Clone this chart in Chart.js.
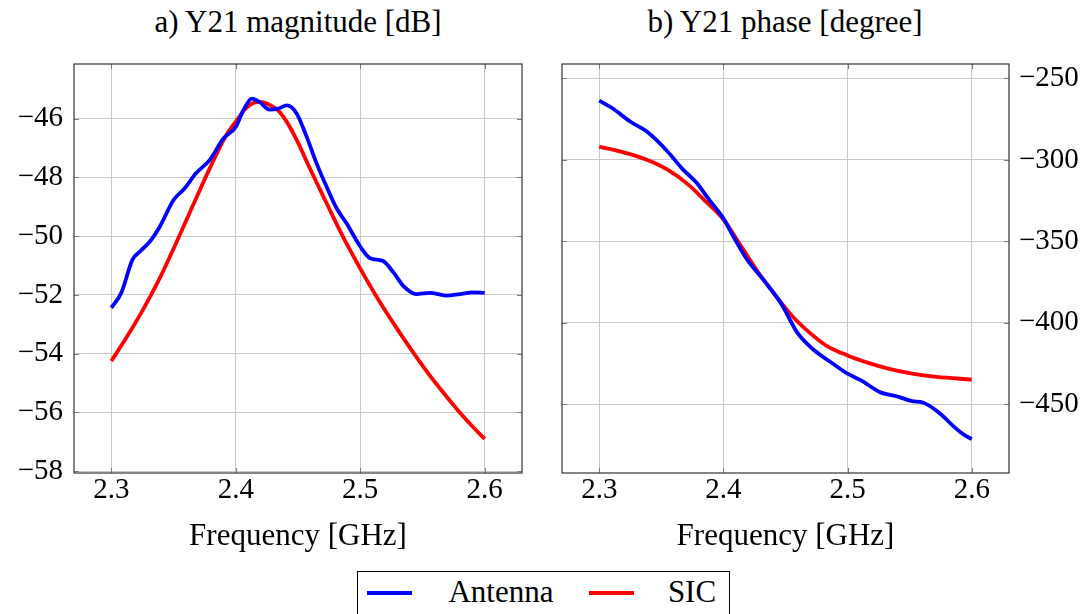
<!DOCTYPE html>
<html>
<head>
<meta charset="utf-8">
<script src="https://cdn.jsdelivr.net/npm/chart.js@4.4.0/dist/chart.umd.min.js"></script>
<style>
  html, body { margin:0; padding:0; background:#fff; }
  body { width:1092px; height:614px; position:relative; overflow:hidden; font-family:"Liberation Serif","DejaVu Serif",serif; color:#000; }
  canvas { position:absolute; top:0; }
  .title { position:absolute; top:6px; width:448px; text-align:center; font-size:31px; line-height:31px; white-space:nowrap; }
  #legend { position:absolute; left:357px; top:571px; width:373px; height:60px; border:1px solid #000; box-sizing:border-box; }
  #legend .sw { position:absolute; top:19px; width:45px; height:4px; }
  #legend .lbl { position:absolute; top:4px; width:140px; margin-left:-70px; text-align:center; font-size:31px; line-height:31px; }
</style>
</head>
<body>
<div class="title" style="left:74px">a) Y21 magnitude [dB]</div>
<div class="title" style="left:561px">b) Y21 phase [degree]</div>
<canvas id="chartMag" width="546" height="555" style="left:0"></canvas>
<canvas id="chartPhase" width="546" height="555" style="left:546px"></canvas>
<div id="legend"></div>
<script>
/* ==== Data ==== */
const seriesNames = ['Antenna', 'SIC'];
const seriesColors = ['#0000ff', '#ff0000'];

const freqTicks = [2.3, 2.4, 2.5, 2.6];
const magTicks = [-58, -56, -54, -52, -50, -48, -46];
const phaseTicks = [-450, -400, -350, -300, -250];

// Y21 magnitude [dB]
const freqMagAnt = [2.300,2.308,2.317,2.323,2.331,2.339,2.350,2.359,2.368,2.379,2.390,2.400,2.406,2.413,2.419,2.427,2.434,2.441,2.449,2.457,2.465,2.473,2.481,2.489,2.500,2.508,2.518,2.527,2.535,2.545,2.556,2.569,2.580,2.591,2.600];
const magAnt = [-52.44,-51.93,-50.80,-50.52,-50.18,-49.67,-48.77,-48.37,-47.86,-47.41,-46.68,-46.28,-45.72,-45.32,-45.43,-45.69,-45.66,-45.55,-45.83,-46.62,-47.53,-48.32,-49.05,-49.56,-50.35,-50.75,-50.84,-51.25,-51.71,-51.97,-51.93,-52.02,-51.97,-51.91,-51.93];
const freqMagSic = [2.300,2.312,2.3255,2.339,2.352,2.3657,2.379,2.3925,2.400,2.4075,2.414,2.4206,2.427,2.434,2.441,2.449,2.4595,2.473,2.486,2.4997,2.513,2.5265,2.540,2.5533,2.5667,2.580,2.591,2.600];
const magSic = [-54.25,-53.46,-52.50,-51.42,-50.24,-48.94,-47.70,-46.55,-46.10,-45.68,-45.47,-45.43,-45.53,-45.72,-46.11,-46.73,-47.69,-48.88,-50.01,-51.08,-52.05,-52.95,-53.80,-54.59,-55.32,-56.00,-56.51,-56.90];

// Y21 phase [degree]
const freqPhAnt = [2.300,2.3106,2.3258,2.3383,2.355,2.3675,2.3786,2.3883,2.400,2.4078,2.4189,2.4328,2.4467,2.4592,2.4717,2.4883,2.500,2.5106,2.5258,2.541,2.552,2.5606,2.5744,2.5856,2.5939,2.600];
const phAnt = [-263.6,-268.3,-276.9,-282.6,-294.8,-306.0,-314.2,-324.3,-335.9,-346.7,-361.0,-374.2,-388.5,-405.8,-416.0,-425.2,-431.3,-435.3,-442.5,-445.5,-448.2,-449.0,-455.7,-463.8,-468.9,-471.4];
const freqPhSic = [2.300,2.3217,2.3383,2.355,2.3717,2.3856,2.400,2.4133,2.4272,2.4411,2.455,2.4689,2.4828,2.500,2.5161,2.5328,2.552,2.5717,2.600];
const phSic = [-291.8,-295.8,-299.9,-306.0,-315.2,-325.4,-336.6,-351.8,-368.1,-382.4,-395.6,-405.8,-414.0,-420.1,-424.5,-428.2,-431.3,-433.3,-434.9];

/* ==== Helpers ==== */
const FONT = '"Liberation Serif", "DejaVu Serif", serif';
const GRID = '#c8c8c8';
const FRAME = '#333333';

function pts(xs, ys){ return xs.map((x,i)=>({x, y: ys[i]})); }
function minus(v){ return String(v).replace('-', '\u2212'); }
function fixedTicks(list){ return scale => { scale.ticks = list.map(v=>({value:v})); }; }

function dataset(i, xs, ys){
  return { label: seriesNames[i], data: pts(xs, ys), borderColor: seriesColors[i], backgroundColor: seriesColors[i],
           borderWidth: 3.8, pointRadius: 0, cubicInterpolationMode: 'monotone', fill: false };
}

// frame round the plot area + small inner tick marks, like pgfplots
const framePlugin = {
  id: 'frame',
  afterDatasetsDraw(chart){
    const {ctx, chartArea: a, scales} = chart;
    ctx.save();
    ctx.strokeStyle = '#7a7a7a'; ctx.lineWidth = 1;
    ctx.beginPath();
    scales.x.ticks.forEach(t => {
      const px = Math.round(scales.x.getPixelForValue(t.value)) + 0.5;
      ctx.moveTo(px, a.bottom); ctx.lineTo(px, a.bottom - 5);
      ctx.moveTo(px, a.top); ctx.lineTo(px, a.top + 5);
    });
    scales.y.ticks.forEach(t => {
      const py = Math.round(scales.y.getPixelForValue(t.value)) + 0.5;
      ctx.moveTo(a.left, py); ctx.lineTo(a.left + 5, py);
      ctx.moveTo(a.right, py); ctx.lineTo(a.right - 5, py);
    });
    ctx.stroke();
    ctx.strokeStyle = FRAME; ctx.lineWidth = 1.2;
    ctx.strokeRect(a.left, a.top, a.right - a.left, a.bottom - a.top);
    ctx.restore();
  }
};

function makeChart(id, datasets, y, yPos, pad, yWidth){
  return new Chart(document.getElementById(id), {
    type: 'line',
    data: { datasets },
    plugins: [framePlugin],
    options: {
      responsive: false, animation: false,
      layout: { padding: pad },
      plugins: { legend: { display: false }, tooltip: { enabled: false } },
      scales: {
        x: {
          type: 'linear', min: 2.27, max: 2.63,
          afterBuildTicks: fixedTicks(freqTicks),
          afterFit: s => { s.height = 82; },
          grid: { color: GRID, drawTicks: false },
          border: { display: false },
          ticks: { color: '#000', padding: 0, font: { family: FONT, size: 29 }, callback: v => v.toFixed(1) },
          title: { display: true, text: 'Frequency [GHz]', color: '#000', padding: 0, font: { family: FONT, size: 31 } }
        },
        y: {
          type: 'linear', position: yPos, min: y.min, max: y.max,
          afterBuildTicks: fixedTicks(y.ticks),
          afterFit: s => { s.width = yWidth; },
          grid: { color: GRID, drawTicks: false },
          border: { display: false },
          ticks: { color: '#000', padding: y.pad, font: { family: FONT, size: 29 }, callback: v => minus(v) }
        }
      }
    }
  });
}

const magChart = makeChart('chartMag',
  [dataset(0, freqMagAnt, magAnt), dataset(1, freqMagSic, magSic)],
  { min: -58.06, max: -44.14, ticks: magTicks, pad: 11 }, 'left',
  { left: 0, right: 24, top: 64, bottom: 0 }, 74);

const phaseChart = makeChart('chartPhase',
  [dataset(0, freqPhAnt, phAnt), dataset(1, freqPhSic, phSic)],
  { min: -492.3, max: -241.1, ticks: phaseTicks, pad: 10 }, 'right',
  { left: 16, right: 0, top: 64, bottom: 0 }, 83);

/* ==== Shared legend ==== */
const legend = document.getElementById('legend');
const swLeft = [9, 231], lblCenter = [143, 334];
seriesNames.forEach((name, i) => {
  const sw = document.createElement('div');
  sw.className = 'sw'; sw.style.left = swLeft[i] + 'px'; sw.style.background = seriesColors[i];
  const lb = document.createElement('div');
  lb.className = 'lbl'; lb.style.left = lblCenter[i] + 'px'; lb.textContent = name;
  legend.appendChild(sw); legend.appendChild(lb);
});
</script>
</body>
</html>
